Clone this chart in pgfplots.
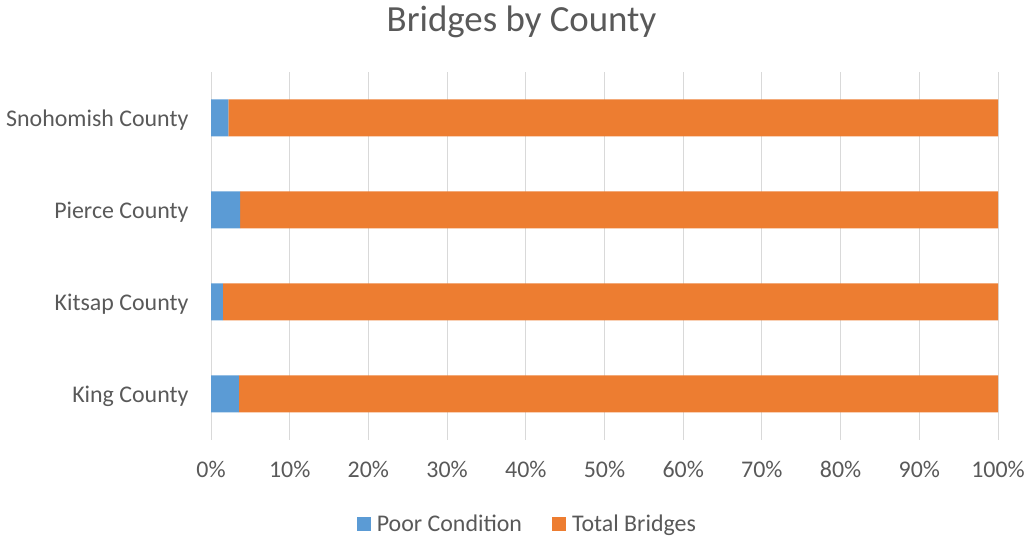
\documentclass[border=0pt]{standalone}
\usepackage{pgfplots}
\pgfplotsset{compat=1.18}
\usepackage{fontspec}
\setmainfont{Carlito}
\definecolor{poorc}{HTML}{5B9BD5}
\definecolor{totalc}{HTML}{ED7D31}
\definecolor{txt}{HTML}{595959}
\definecolor{gridc}{HTML}{D9D9D9}

\begin{document}
\begin{tikzpicture}[x=1bp,y=1bp]
\path[use as bounding box] (0,0) rectangle (1028,541);
\begin{axis}[
  at={(211bp,101bp)}, anchor=south west,
  scale only axis, width=787bp, height=368bp,
  xbar stacked, bar width=37bp,
  xmin=0, xmax=100, ymin=-0.5, ymax=3.5,
  xtick={0,10,...,100},
  xticklabel={\pgfmathprintnumber{\tick}\%},
  ytick={0,1,2,3},
  yticklabels={King County,Kitsap County,Pierce County,Snohomish County},
  /pgf/number format/assume math mode=true,
  tick label style={font=\fontsize{24}{28}\selectfont, text=txt},
  xticklabel style={yshift=-18bp},
  yticklabel style={xshift=-19bp, yshift=-2bp},
  xmajorgrids, grid style={gridc, line width=1bp},
  axis line style={draw=none},
  major tick style={draw=none},
  legend style={at={(0.402,-0.228)}, anchor=center, draw=none,
    legend columns=2, font=\fontsize{24}{28}\selectfont, text=txt,
    /tikz/every even column/.append style={column sep=28bp}},
  legend image code/.code={\fill[#1] (0bp,-7bp) rectangle (14bp,7bp);
    \path[draw=none, fill=none] (0bp,0bp) rectangle (18bp,1bp);},
]
\addplot[fill=poorc, draw=none] coordinates {(3.55,0) (1.5,1) (3.7,2) (2.2,3)};
\addplot[fill=totalc, draw=none] coordinates {(96.45,0) (98.5,1) (96.3,2) (97.8,3)};
\legend{Poor Condition, Total Bridges}
\end{axis}
\node[text=txt, font=\fontsize{37}{44}\selectfont] at (521.5,519) {Bridges by County};
\end{tikzpicture}
\end{document}
